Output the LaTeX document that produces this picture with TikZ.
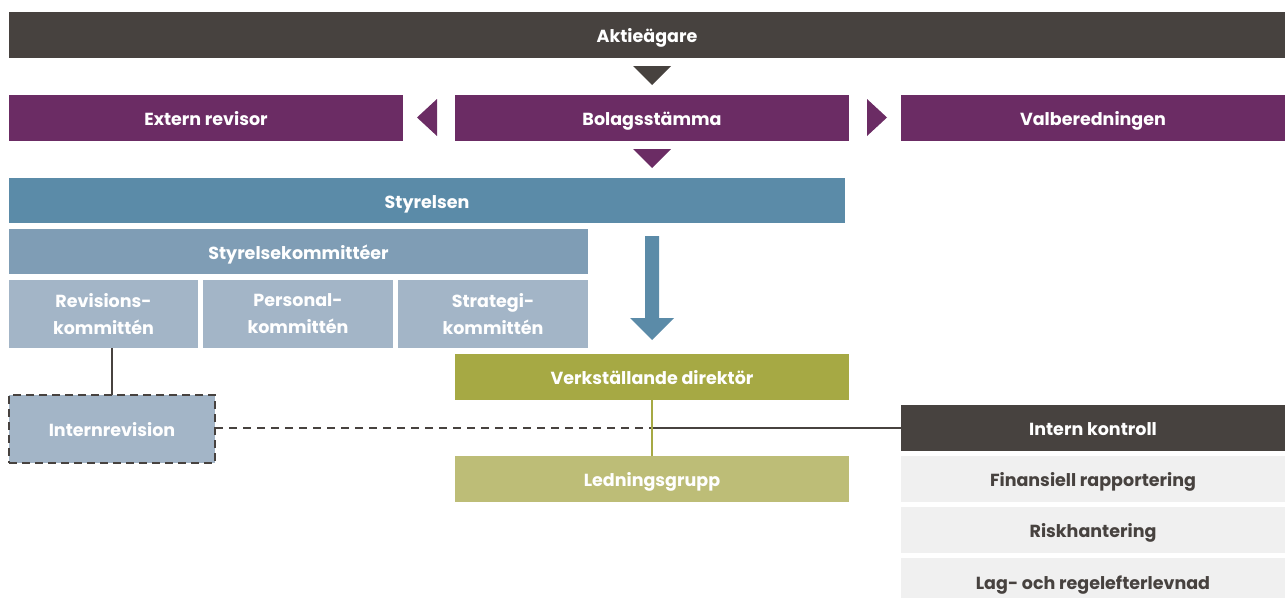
\documentclass[tikz,border=0pt]{standalone}
\usepackage{fontspec}
\setmainfont{Poppins}
\definecolor{cdark}{HTML}{47423F}
\definecolor{cpurple}{HTML}{6B2C64}
\definecolor{cblue}{HTML}{5B8BA8}
\definecolor{cblueb}{HTML}{7F9DB5}
\definecolor{cbluec}{HTML}{A3B5C7}
\definecolor{colive}{HTML}{A6A944}
\definecolor{colivel}{HTML}{BDBD77}
\definecolor{cgray}{HTML}{F0F0F0}
\begin{document}
\begin{tikzpicture}[x=1pt,y=-1pt,
  box/.style={rectangle, inner sep=0pt, outer sep=0pt, anchor=north west, text=white,
    font=\fontsize{17.5}{27}\selectfont\bfseries, align=center},
  one/.style={text height=19pt, text depth=4pt},
  lbox/.style={box, one, fill=cgray, text=cdark}]
\useasboundingbox (0,0) rectangle (1285,597);
\node[box, one, fill=cdark, minimum width=1276pt, minimum height=46pt] (akt) at (9,12) {Aktieägare};
\node[box, one, fill=cpurple, minimum width=394pt, minimum height=46pt] (ext) at (9,95) {Extern revisor};
\node[box, one, fill=cpurple, minimum width=394pt, minimum height=46pt] (bol) at (455,95) {Bolagsstämma};
\node[box, one, fill=cpurple, minimum width=384pt, minimum height=46pt] (val) at (901,95) {Valberedningen};
\node[box, one, fill=cblue, minimum width=836pt, minimum height=45pt] (sty) at (9,178) {Styrelsen};
\node[box, one, fill=cblueb, minimum width=579pt, minimum height=45pt] (kom) at (9,229) {Styrelsekommittéer};
\node[box, fill=cbluec, minimum width=189pt, minimum height=68pt] (rev) at (9,280) {Revisions-\\kommittén};
\node[box, fill=cbluec, minimum width=190pt, minimum height=68pt] (per) at (203,280) {Personal-\\kommittén};
\node[box, fill=cbluec, minimum width=190pt, minimum height=68pt] (str) at (398,280) {Strategi-\\kommittén};
\node[box, one, fill=cbluec, draw=cdark, line width=2.5pt, dash pattern=on 8pt off 5pt, minimum width=206pt, minimum height=68pt] (irv) at (9,395) {Internrevision};
\node[box, one, fill=colive, minimum width=394pt, minimum height=46pt] (vd) at (455,354) {Verkställande direktör};
\node[box, one, fill=colivel, minimum width=394pt, minimum height=46pt] (lg) at (455,456) {Ledningsgrupp};
\node[box, one, fill=cdark, minimum width=384pt, minimum height=46pt] (ik) at (901,405) {Intern kontroll};
\node[lbox, minimum width=384pt, minimum height=46pt] (fin) at (901,456) {Finansiell rapportering};
\node[lbox, minimum width=384pt, minimum height=46pt] (risk) at (901,507) {Riskhantering};
\node[lbox, minimum width=384pt, minimum height=48pt] (lag) at (901,558) {Lag- och regelefterlevnad};
% triangles
\fill[cdark] (633,66) -- (671,66) -- (652,85) -- cycle;
\fill[cpurple] (633,149) -- (671,149) -- (652,168) -- cycle;
\fill[cpurple] (437,99) -- (437,136) -- (417,117.5) -- cycle;
\fill[cpurple] (867,99) -- (867,136) -- (887,117.5) -- cycle;
% big arrow
\fill[cblue] (645,236) -- (659,236) -- (659,318) -- (674,318) -- (652,340) -- (630,318) -- (645,318) -- cycle;
% connectors
\draw[cdark, line width=2pt] (irv.north) -- (irv.north |- rev.south);
\coordinate (mid) at (vd.south |- ik.west);
\draw[cdark, line width=2pt, dash pattern=on 8pt off 6pt] (irv.east |- mid) -- (mid);
\draw[cdark, line width=2pt] (mid) -- (ik.west);
\draw[colive, line width=2pt] (vd.south) -- (lg.north);
\end{tikzpicture}
\end{document}
